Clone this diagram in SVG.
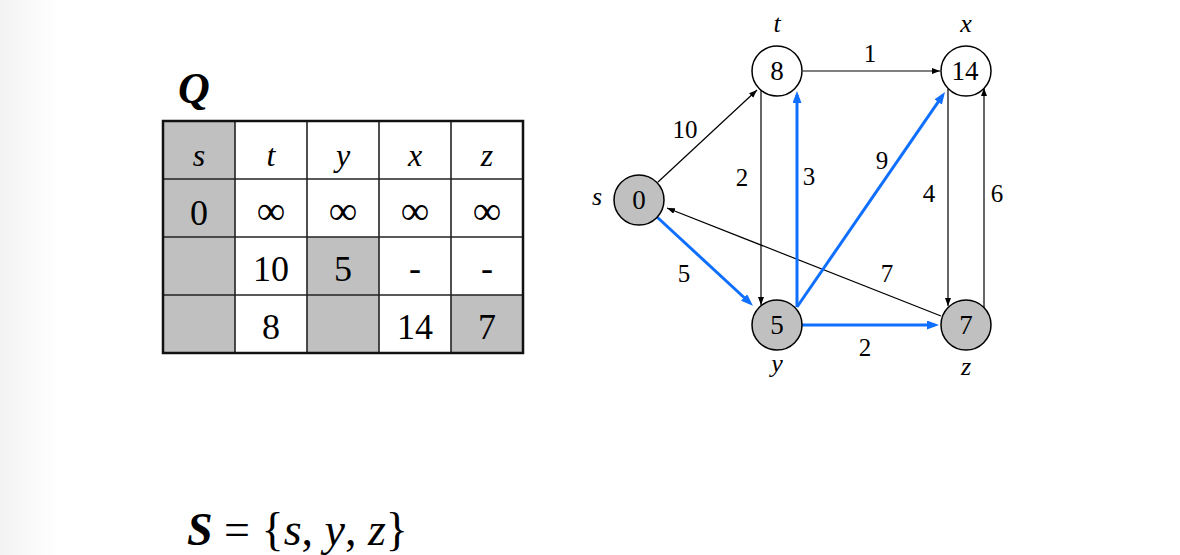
<svg xmlns="http://www.w3.org/2000/svg" width="1180" height="555" viewBox="0 0 1180 555">
<defs>
<linearGradient id="bg" x1="0" y1="0" x2="1" y2="0">
<stop offset="0" stop-color="#f3f3f3"/>
<stop offset="1" stop-color="#ffffff"/>
</linearGradient>
<marker id="ab" markerUnits="userSpaceOnUse" markerWidth="9" markerHeight="7" refX="8" refY="3" orient="auto">
<path d="M0,0 L8,3 L0,6 z" fill="#000"/>
</marker>
<marker id="au" markerUnits="userSpaceOnUse" markerWidth="13" markerHeight="10" refX="8" refY="4.5" orient="auto">
<path d="M0,0 L12,4.5 L0,9 z" fill="#0f6fff"/>
</marker>
<style>
.t{font-family:"Liberation Serif","Times New Roman",serif;fill:#000}
.cell{font-size:36px;text-anchor:middle}
.inf{font-size:40px;text-anchor:middle}
.hd{font-size:32px;font-style:italic;text-anchor:middle}
.g{fill:#c0c0c0}
.w{fill:#fff}
.node{stroke:#000;stroke-width:1.5}
.num{font-size:27px;text-anchor:middle}
.lbl{font-size:25px;text-anchor:middle}
.nl{font-size:26px;font-style:italic;text-anchor:middle}
.blk{stroke:#000;stroke-width:1.2;fill:none;marker-end:url(#ab)}
.blu{stroke:#0f6fff;stroke-width:3;fill:none;marker-end:url(#au)}
</style>
</defs>
<rect x="0" y="0" width="1180" height="555" fill="#fff"/>
<rect x="0" y="0" width="60" height="555" fill="url(#bg)"/>

<g id="title-Q">
<text class="t" x="178" y="103" font-size="44" font-weight="bold" font-style="italic">Q</text>
</g>

<g id="table-Q">
<rect class="g" x="163" y="121" width="72" height="232"/>
<rect class="w" x="235" y="121" width="288" height="232"/>
<rect class="g" x="307" y="237" width="72" height="116"/>
<rect class="g" x="451" y="295" width="72" height="58"/>
<g stroke="#222" stroke-width="1.6">
<line x1="235" y1="121" x2="235" y2="353"/>
<line x1="307" y1="121" x2="307" y2="353"/>
<line x1="379" y1="121" x2="379" y2="353"/>
<line x1="451" y1="121" x2="451" y2="353"/>
<line x1="163" y1="179" x2="523" y2="179"/>
<line x1="163" y1="237" x2="523" y2="237"/>
<line x1="163" y1="295" x2="523" y2="295"/>
</g>
<rect x="163" y="121" width="360" height="232" fill="none" stroke="#111" stroke-width="2.5"/>
<text class="t hd" x="199" y="166">s</text>
<text class="t hd" x="271" y="166">t</text>
<text class="t hd" x="343" y="166">y</text>
<text class="t hd" x="415" y="166">x</text>
<text class="t hd" x="487" y="166">z</text>
<text class="t cell" x="199" y="225">0</text>
<text class="t inf" x="271" y="224">∞</text>
<text class="t inf" x="343" y="224">∞</text>
<text class="t inf" x="415" y="224">∞</text>
<text class="t inf" x="487" y="224">∞</text>
<text class="t cell" x="271" y="281">10</text>
<text class="t cell" x="343" y="281">5</text>
<text class="t cell" x="415" y="280">-</text>
<text class="t cell" x="487" y="280">-</text>
<text class="t cell" x="271" y="339">8</text>
<text class="t cell" x="415" y="339">14</text>
<text class="t cell" x="487" y="339">7</text>
</g>

<g id="connectors">
<line class="blk" x1="658" y1="182" x2="757" y2="90"/>
<line class="blk" x1="803" y1="71" x2="940" y2="71"/>
<line class="blk" x1="761" y1="90" x2="761" y2="305"/>
<line class="blk" x1="948" y1="89" x2="948" y2="306"/>
<line class="blk" x1="984" y1="308" x2="984" y2="88"/>
<line class="blk" x1="941" y1="316" x2="667" y2="208"/>
<line class="blu" x1="657" y1="217" x2="750" y2="303"/>
<line class="blu" x1="797" y1="307" x2="797" y2="95"/>
<line class="blu" x1="797" y1="307" x2="942.7" y2="95.3"/>
<line class="blu" x1="802" y1="325" x2="935" y2="325"/>
<text class="t lbl" x="685" y="138">10</text>
<text class="t lbl" x="870" y="62">1</text>
<text class="t lbl" x="742" y="186">2</text>
<text class="t lbl" x="809" y="185">3</text>
<text class="t lbl" x="882" y="169">9</text>
<text class="t lbl" x="929" y="202">4</text>
<text class="t lbl" x="997" y="202">6</text>
<text class="t lbl" x="684" y="282">5</text>
<text class="t lbl" x="887" y="282">7</text>
<text class="t lbl" x="865" y="356">2</text>
</g>

<g id="node-s">
<circle class="node g" cx="639" cy="200" r="25"/>
<text class="t num" x="639" y="209">0</text>
<text class="t nl" x="597" y="205">s</text>
</g>
<g id="node-t">
<circle class="node w" cx="777" cy="71" r="25"/>
<text class="t num" x="777" y="80">8</text>
<text class="t nl" x="777" y="32">t</text>
</g>
<g id="node-x">
<circle class="node w" cx="966" cy="71" r="25"/>
<text class="t num" x="965" y="80">14</text>
<text class="t nl" x="966" y="32">x</text>
</g>
<g id="node-y">
<circle class="node g" cx="777" cy="325" r="25"/>
<text class="t num" x="777" y="334">5</text>
<text class="t nl" x="777" y="372">y</text>
</g>
<g id="node-z">
<circle class="node g" cx="966" cy="325" r="25"/>
<text class="t num" x="966" y="334">7</text>
<text class="t nl" x="966" y="375">z</text>
</g>

<g id="set-S">
<text class="t" x="187" y="545" font-size="46"><tspan font-weight="bold" font-style="italic">S</tspan> = {<tspan font-style="italic">s</tspan>, <tspan font-style="italic">y</tspan>, <tspan font-style="italic">z</tspan>}</text>
</g>
</svg>
